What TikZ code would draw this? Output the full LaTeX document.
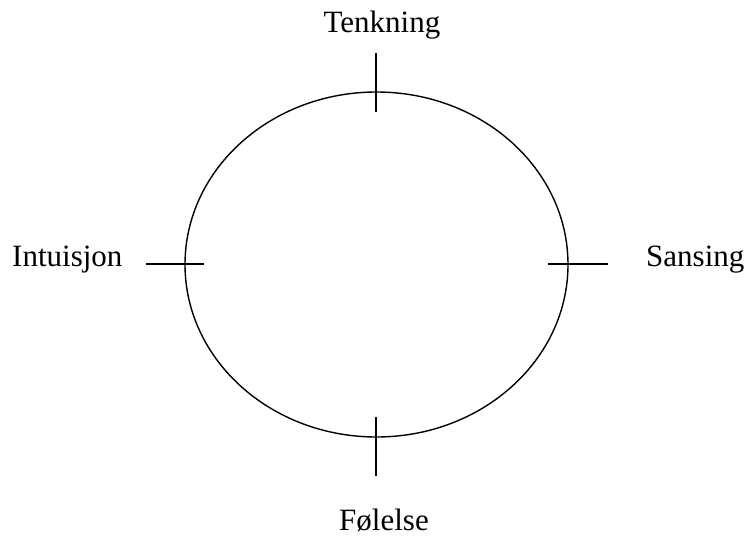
\documentclass[tikz,border=0pt]{standalone}
\usepackage{fontspec}
\setmainfont{Liberation Serif}
\usetikzlibrary{shapes.geometric}
\begin{document}
\begin{tikzpicture}[x=1pt,y=-1pt,
  lbl/.style={font=\fontsize{31}{37}\selectfont, inner sep=0pt, anchor=base},
  tick/.style={line width=1.4pt},
  ring/.style={ellipse, draw, line width=1.4pt, minimum width=383pt, minimum height=345pt, inner sep=0pt}]
\useasboundingbox (0,0) rectangle (748,538);
\node[ring] (e) at (376.5,264.5) {};
\coordinate (t1) at (376,53); \coordinate (t2) at (376,112);
\coordinate (b1) at (376,417); \coordinate (b2) at (376,476);
\coordinate (l1) at (146,264); \coordinate (l2) at (204,264);
\coordinate (r1) at (548,264); \coordinate (r2) at (608,264);
\draw[tick] (t1) -- (t2);
\draw[tick] (b1) -- (b2);
\draw[tick] (l1) -- (l2);
\draw[tick] (r1) -- (r2);
\node[lbl] (tenk) at (382,32) {Tenkning};
\node[lbl, anchor=base west] (intu) at (12,266) {Intuisjon};
\node[lbl, anchor=base west] (sans) at (646,266) {Sansing};
\node[lbl] (fol) at (384,530) {Følelse};
\end{tikzpicture}
\end{document}
